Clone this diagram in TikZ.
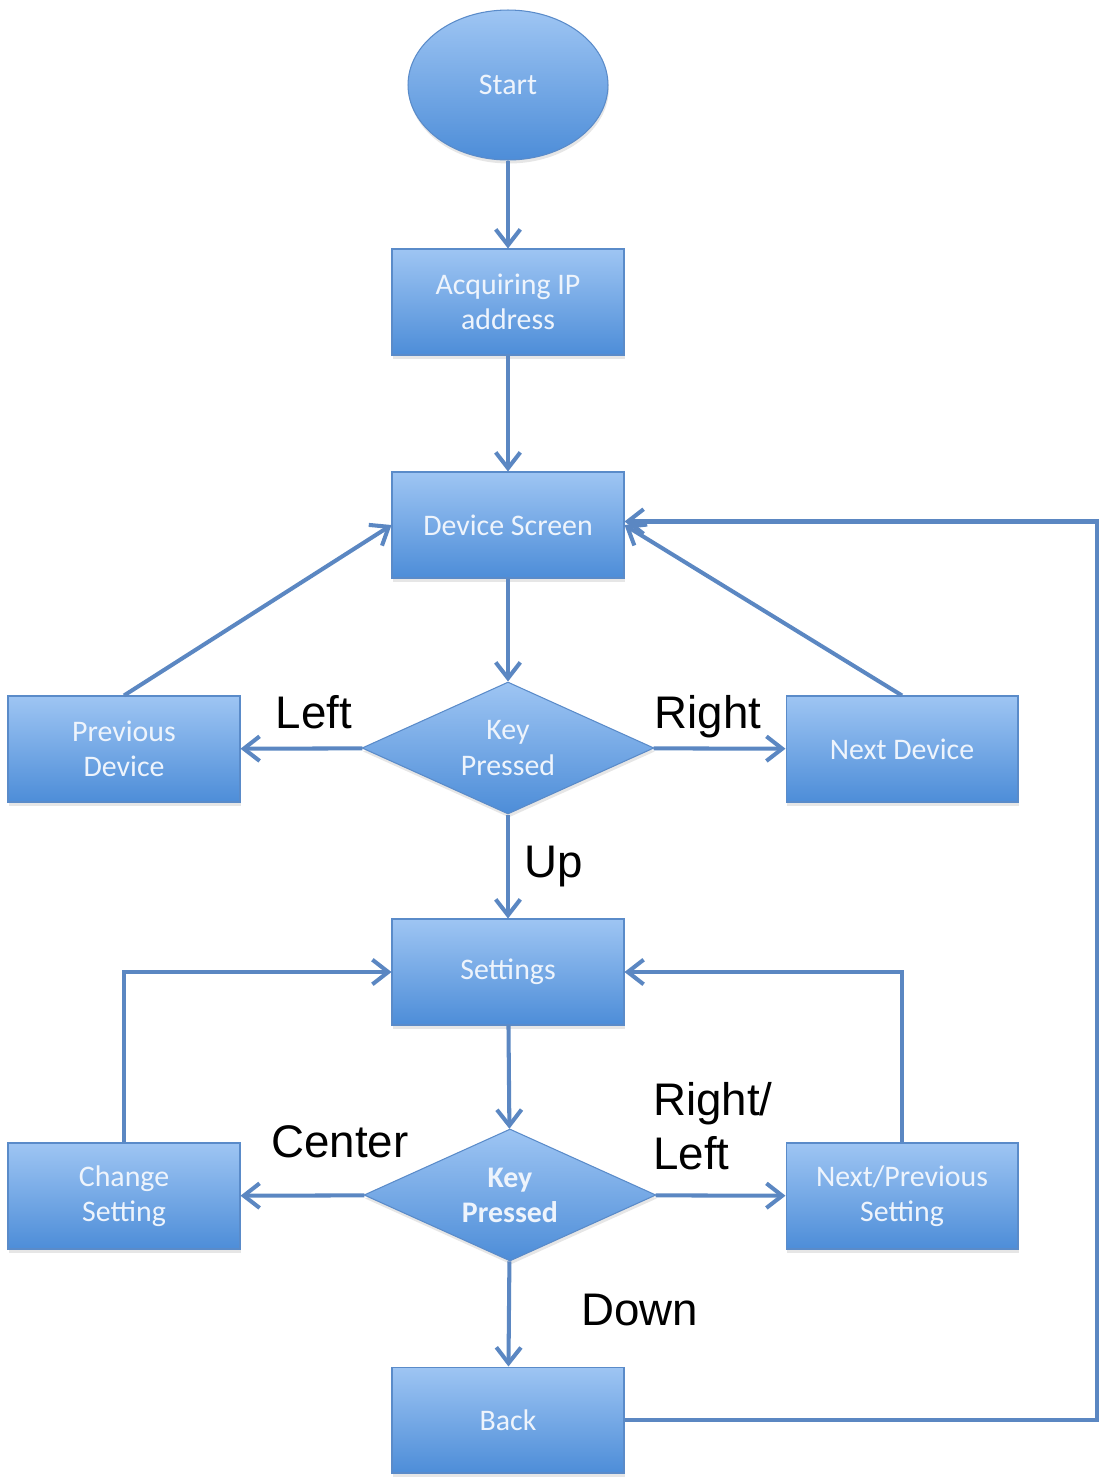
\documentclass[tikz,border=0pt]{standalone}
\usepackage{fontspec}
\setmainfont{Carlito}
\newfontfamily\labelfont{Liberation Sans}
\usetikzlibrary{arrows.meta,shapes.geometric,shadows}

\definecolor{boxtop}{HTML}{9EC5F3}
\definecolor{boxbot}{HTML}{4D8DD8}
\definecolor{boxline}{HTML}{5A8BC9}
\definecolor{boxtext}{HTML}{EEF4FC}
\definecolor{flowc}{HTML}{5B87C2}

\begin{document}
\begin{tikzpicture}[
  x=0.02cm, y=-0.02cm,
  blk/.style={draw=boxline, line width=0.6pt, top color=boxtop, bottom color=boxbot,
    text=boxtext, align=center, font=\fontsize{17}{20}\selectfont,
    drop shadow={opacity=0.2, shadow xshift=0.5pt, shadow yshift=-2pt}},
  proc/.style={blk, rectangle, minimum width=4.64cm, minimum height=2.12cm},
  term/.style={blk, ellipse, minimum width=4cm, minimum height=3cm},
  dec/.style={blk, diamond, shape aspect=2.2, minimum width=5.84cm, minimum height=2.64cm, inner sep=-3pt},
  lbl/.style={font=\labelfont\fontsize{26}{31}\selectfont, align=left, inner sep=0pt},
  flow/.style={draw=flowc, line width=2.3pt, -{Straight Barb[length=9pt, width=14pt]}}
]
  \useasboundingbox (0,0) rectangle (1100,1478);

  % main column
  \node[term] (start) at (508,85)   {Start};
  \node[proc] (acq)   at (508,302)  {Acquiring IP\\address};
  \node[proc] (dev)   at (508,525)  {Device Screen};
  \node[dec]  (key1)  at (508,748)  {Key\\Pressed};
  \node[proc] (set)   at (508,972)  {Settings};
  \node[dec, font=\fontsize{17}{20}\selectfont\bfseries] (key2) at (510,1195) {Key\\Pressed};
  \node[proc] (back)  at (508,1420) {Back};

  % side boxes
  \node[proc] (prev) at (124,749)  {Previous\\Device};
  \node[proc] (next) at (902,749)  {Next Device};
  \node[proc] (chg)  at (124,1196) {Change\\Setting};
  \node[proc] (nps)  at (902,1196) {Next/Previous\\Setting};

  \coordinate (rt) at (1097,0);

  % connectors
  \draw[flow] (start) -- (acq);
  \draw[flow] (acq) -- (dev);
  \draw[flow] (dev) -- (key1);
  \draw[flow] (key1) -- (prev);
  \draw[flow] (key1) -- (next);
  \draw[flow] (key1) -- (set);
  \draw[flow] (prev.north) -- (dev.west);
  \draw[flow] (next.north) -- (dev.east);
  \draw[flow] (set) -- (key2);
  \draw[flow] (key2) -- (chg);
  \draw[flow] (key2) -- (nps);
  \draw[flow] (key2) -- (back);
  \draw[flow] (chg.north) |- (set.west);
  \draw[flow] (nps.north) |- (set.east);
  \draw[flow] (back.east) -- (back.east -| rt) |- ([yshift=2pt]dev.east);

  % key labels
  \node[lbl, anchor=base] (lleft)   at (314,728)  {Left};
  \node[lbl, anchor=base] (lright)  at (708,728)  {Right};
  \node[lbl, anchor=base] (lup)     at (554,877)  {Up};
  \node[lbl, anchor=base] (lcenter) at (340,1157) {Center};
  \node[lbl, anchor=north west] (lrl) at (653,1082) {Right/\\Left};
  \node[lbl, anchor=base] (ldown)   at (640,1325) {Down};
\end{tikzpicture}
\end{document}
